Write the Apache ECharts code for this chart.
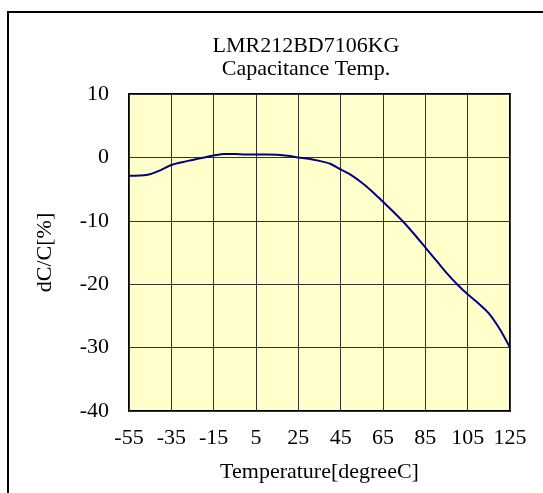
<!DOCTYPE html>
<html>
<head>
<meta charset="utf-8">
<script src="https://cdn.jsdelivr.net/npm/echarts@6/dist/echarts.min.js"></script>
<style>
html,body{margin:0;padding:0;background:#fff;}
#chart{width:543px;height:493px;}
</style>
</head>
<body>
<div id="chart"></div>
<script>
const titleLines = ['LMR212BD7106KG', 'Capacitance Temp.'];
const xAxisName = 'Temperature[degreeC]';
const yAxisName = 'dC/C[%]';
const temperatures = [-55,-50,-45,-40,-35,-30,-25,-20,-15,-10,-5,0,5,10,15,20,25,30,35,40,45,50,55,60,65,70,75,80,85,90,95,100,105,110,115,120,125];
const dCC = [-2.9,-2.85,-2.65,-2.0,-1.2,-0.75,-0.4,-0.05,0.3,0.55,0.55,0.45,0.45,0.45,0.4,0.25,0.0,-0.2,-0.55,-1.0,-1.9,-2.8,-4.0,-5.4,-7.0,-8.6,-10.3,-12.2,-14.2,-16.2,-18.2,-20.0,-21.6,-23.0,-24.6,-27.0,-30.0];

const font = 'Liberation Serif';
const fs = 22;
const chart = echarts.init(document.getElementById('chart'));
chart.setOption({
  backgroundColor: '#ffffff',
  animation: false,
  title: {
    text: titleLines.join('\n'),
    left: 306, top: 35, textAlign: 'center', padding: 0,
    textStyle: {fontFamily: font, fontSize: fs, fontWeight: 'normal', color: '#000', lineHeight: 23}
  },
  graphic: [{
    type: 'rect', shape: {x: 8, y: 12, width: 600, height: 600},
    style: {fill: 'none', stroke: '#000', lineWidth: 2}, silent: true, z: -1
  }],
  grid: {left: 129, top: 94, right: 33, bottom: 82, show: true, backgroundColor: '#FFFFCC', borderColor: '#000', borderWidth: 2},
  xAxis: {
    type: 'value', min: -55, max: 125, interval: 20,
    name: xAxisName, nameLocation: 'middle', nameGap: 50,
    nameTextStyle: {fontFamily: font, fontSize: fs, color: '#000'},
    axisLine: {show: false}, axisTick: {show: false},
    axisLabel: {fontFamily: font, fontSize: fs, color: '#000', margin: 16},
    splitLine: {show: true, lineStyle: {color: '#333', width: 1}}
  },
  yAxis: {
    type: 'value', min: -40, max: 10, interval: 10,
    name: yAxisName, nameLocation: 'middle', nameGap: 73,
    nameTextStyle: {fontFamily: font, fontSize: fs, color: '#000'},
    axisLine: {show: false}, axisTick: {show: false},
    axisLabel: {fontFamily: font, fontSize: fs, color: '#000', margin: 20},
    splitLine: {show: true, lineStyle: {color: '#333', width: 1}}
  },
  series: [{
    type: 'line', data: temperatures.map((t, i) => [t, dCC[i]]),
    smooth: 0.3, showSymbol: false,
    lineStyle: {color: '#000080', width: 2}
  }]
});
</script>
</body>
</html>
